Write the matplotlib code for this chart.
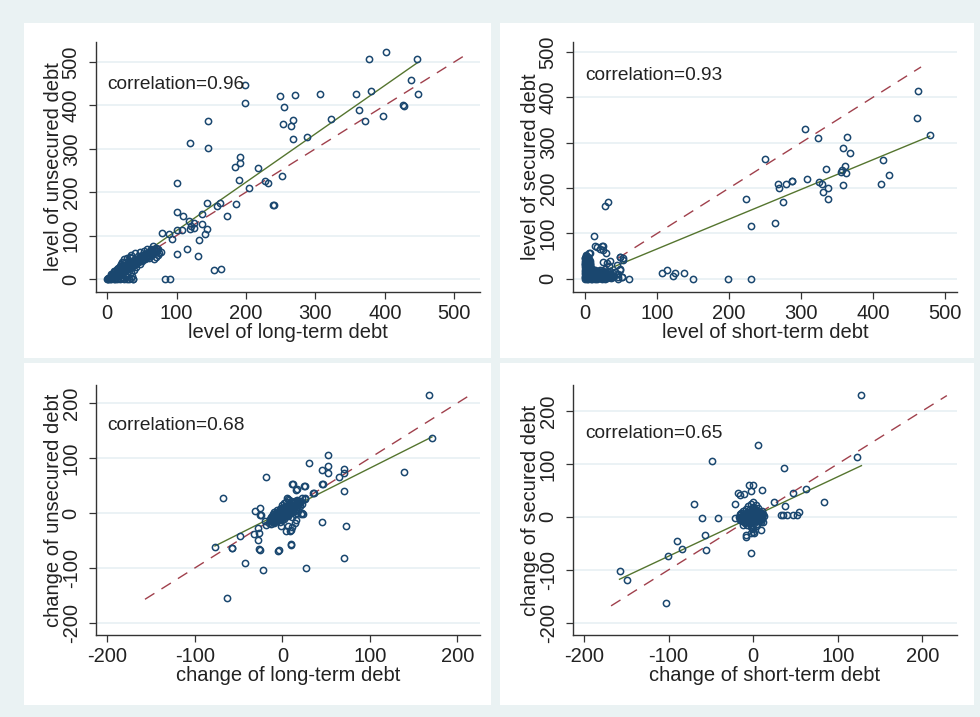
import numpy as np
import matplotlib
matplotlib.use('Agg')
import matplotlib.pyplot as plt
from matplotlib.patches import Rectangle

plt.rcParams['font.family'] = ['Liberation Sans', 'DejaVu Sans']
plt.rcParams['axes.unicode_minus'] = False

# ---- colours (Stata s2color look) ----
NAVY = '#1a476f'
GREEN = '#55752f'
MAROON = '#a0404c'
BG = '#eaf2f3'
GRID = '#e8f0f4'
AXC = '#333333'

# ---- panel 1: level of long-term debt vs level of unsecured debt ----
p1_x = [377, 402, 446, 199, 198, 249, 271, 306, 359, 380, 438, 448, 255, 363, 426, 427,
        323, 253, 268, 265, 371, 398, 146, 119, 146, 267, 288, 192, 192, 184, 190, 217,
        204, 227, 232, 252, 239, 241, 100, 144, 163, 158, 186, 173, 100, 110, 137, 118,
        125, 121, 137, 144, 141, 125, 120, 108, 100, 79, 89, 93, 133, 115, 131, 100,
        154, 164, 83, 91, 37, 68,
        0, 1, 2, 2, 3, 4, 5, 5, 6, 6, 7, 8, 8, 9, 10, 10, 10, 11, 12, 12, 13, 14, 14,
        15, 15, 16, 16, 17, 18, 18, 19, 19, 20, 20, 21, 22, 22, 23, 24, 24, 25, 25, 26,
        27, 27, 28, 28, 29, 30, 30, 31, 32, 32, 33, 34, 34, 35, 35, 36, 36, 37, 38, 38,
        39, 40, 40, 41, 42, 43, 44, 45, 46, 47, 48, 48, 50, 50, 52, 53, 55, 55, 57, 58,
        60, 62, 63, 65, 66, 68, 70, 72, 74, 75, 73, 70, 77, 65, 60, 12, 18, 22, 28, 35,
        3, 5, 7, 9, 11, 13, 15, 17, 19, 21, 23, 25, 27, 29, 31, 33, 35, 37, 39, 41, 43,
        45, 47, 49, 51, 53, 55, 57, 59, 61, 63, 65, 67, 69,
        4, 8, 12, 16, 20, 24, 28, 32, 36, 40, 44, 48, 52, 56, 60, 64, 68, 72,
        6, 10, 14, 18, 22, 26, 30, 34]
p1_y = [507, 522, 507, 446, 406, 421, 424, 427, 427, 433, 458, 427, 397, 390, 402, 399,
        369, 357, 366, 353, 363, 375, 363, 314, 302, 323, 326, 280, 268, 259, 228, 256,
        210, 225, 222, 237, 170, 170, 222, 176, 176, 167, 173, 145, 155, 145, 149, 133,
        130, 121, 127, 115, 103, 118, 115, 112, 112, 106, 103, 93, 90, 69, 54, 57,
        20, 23, 0, 0, 0, 46,
        0, 1, 0, 3, 2, 5, 3, 8, 1, 6, 10, 4, 12, 7, 0, 10, 15, 3, 12, 18, 8, 0, 14,
        20, 25, 6, 16, 11, 22, 30, 2, 18, 20, 35, 9, 25, 40, 14, 0, 24, 30, 45, 18,
        5, 27, 35, 48, 12, 30, 22, 40, 0, 32, 50, 15, 26, 36, 55, 8, 42, 30, 0, 38,
        20, 45, 60, 35, 28, 43, 52, 38, 46, 62, 35, 50, 42, 55, 52, 65, 45, 58, 70, 55,
        60, 52, 68, 62, 75, 66, 72, 65, 70, 60, 55, 50, 62, 55, 48, 0, 0, 3, 0, 2,
        3, 4, 9, 8, 13, 10, 17, 14, 21, 15, 26, 20, 30, 22, 34, 28, 38, 33, 42, 36, 46,
        40, 50, 45, 54, 47, 58, 50, 62, 55, 66, 60, 70, 64,
        0, 2, 6, 10, 14, 18, 22, 26, 30, 34, 38, 42, 46, 50, 54, 58, 62, 68,
        12, 18, 22, 28, 32, 38, 42, 48]

# ---- panel 2: level of short-term debt vs level of secured debt ----
p2_x = [463, 461, 479, 305, 324, 364, 359, 368, 414, 250, 335, 361, 357, 362, 355, 309,
        287, 288, 268, 279, 270, 325, 329, 337, 331, 359, 412, 422, 224, 275, 337, 231,
        264, 27, 32, 12, 14, 25, 20, 29, 5, 48, 53, 49, 46, 51, 61, 107, 114, 122, 125,
        137, 150, 198, 231, 16, 24, 25, 7, 49, 25, 35, 30,
        0, 0, 0, 0, 0, 0, 0, 0, 0, 0, 1, 1, 1, 1, 1, 1, 2, 2, 2, 2, 2, 3, 3, 3, 3, 3,
        4, 4, 4, 4, 4, 5, 5, 5, 5, 6, 6, 6, 6, 7, 7, 7, 8, 8, 8, 9, 9, 9, 10, 10, 10,
        11, 11, 12, 12, 13, 13, 14, 15, 15, 16, 17, 18, 18, 19, 20, 20, 21, 22, 23, 24,
        25, 26, 27, 28, 28, 30, 31, 32, 33, 34, 35, 36, 38, 40, 42, 44, 45, 49, 51, 46, 21, 53,
        0, 1, 2, 3, 4, 5, 6, 7, 0, 1, 2, 3, 4, 5, 6, 7, 0, 1, 2, 3, 4, 5, 6, 7,
        10, 14, 18, 22, 26, 30, 34, 38, 12, 16, 20, 24, 28, 32, 36, 9, 13, 17, 21, 25, 29, 33]
p2_y = [413, 354, 316, 330, 310, 313, 289, 278, 263, 265, 242, 248, 239, 233, 236, 219,
        216, 216, 210, 210, 201, 213, 210, 201, 192, 207, 210, 228, 175, 169, 175, 116,
        122, 160, 169, 95, 72, 72, 66, 57, 57, 48, 45, 22, 0, 4, 0, 13, 19, 7, 13,
        13, 0, 0, 0, 70, 73, 64, 57, 49, 37, 40, 35,
        0, 5, 10, 15, 20, 25, 30, 35, 40, 45, 2, 12, 22, 32, 42, 50, 0, 8, 18, 28, 38, 4, 14, 24, 34, 45,
        0, 10, 20, 30, 40, 6, 16, 26, 36, 2, 12, 22, 32, 8, 18, 28, 0, 14, 24, 4, 10, 20, 0, 8, 16,
        3, 12, 6, 20, 0, 10, 15, 4, 8, 12, 0, 6, 18, 10, 2, 14, 20, 8, 0, 12,
        4, 16, 8, 0, 22, 10, 4, 14, 28, 8, 18, 2, 12, 6, 15, 30, 10, 20, 4, 4, 2, 42,
        3, 7, 11, 15, 19, 23, 27, 31, 33, 37, 41, 45, 48, 44, 39, 35, 47, 52, 49, 43, 26, 29, 21, 17,
        4, 2, 6, 3, 5, 2, 4, 3, 14, 10, 16, 8, 12, 6, 10, 18, 20, 14, 12, 18, 16, 6]

# ---- panel 3: change of long-term debt vs change of unsecured debt ----
p3_x = [168, 171, 139, 52, 30, 52, 45, 52, 71, 71, 65, 70, 45, 26, 12, 16, 35, 36, 23, 26,
        -19, -68, -31, -25, -25, -19, -32, -28, -48, -28, -26, -5, 10, 4, 10, 16, 21, 24,
        45, 73, 71, 27, -22, -43, -58, -77, -63, 11, 17, 25, 46, 18, 26, -24, 23, 17, -20,
        -27, 9, 11, 6, -2, 15, -57, -27, -4, 10,
        -15, -14, -13, -12, -12, -11, -10, -10, -9, -9, -8, -8, -7, -7, -6, -6, -5, -5,
        -4, -4, -3, -3, -3, -2, -2, -1, -1, -1, 0, 0, 0, 0, 1, 1, 1, 2, 2, 2, 3, 3, 3,
        4, 4, 4, 5, 5, 5, 6, 6, 6, 7, 7, 8, 8, 9, 9, 10, 10, 11, 11, 12, 12, 13, 14, 14,
        15, 16, 17, 18, 19, 20, 21, 22, 5, 8, -3, 0, 2,
        -14, -12, -10, -8, -6, -4, -2, 0, 2, 4, 6, 8, 10, 12, 14, 16, 18, 20,
        -13, -11, -9, -7, -5, -3, -1, 1, 3, 5, 7, 9, 11, 13, 15, 17,
        -10, -6, -2, 2, 6, 10, 14]
p3_y = [215, 137, 74, 105, 91, 86, 79, 72, 81, 72, 66, 40, 52, 50, 52, 42, 37, 37, 28, 28,
        66, 28, 4, 9, -4, -21, -38, -28, -42, -50, -67, -69, -57, -33, -30, -13, -1, -1,
        -16, -23, -81, -100, -103, -91, -64, -62, -154, 53, 44, 50, 53, 22, 26, -3, 0, 0, -14,
        -36, -32, -26, -23, -23, -18, -63, -66, -68, -58,
        -18, -10, -20, -5, -14, -2, -12, -18, -6, 2, -10, -15, 0, -4, -8, 5, -2, -12,
        3, -6, 0, 8, -10, -4, 5, 0, 10, -8, 0, 3, -3, 15, 5, -5, 1, 8, -2, 18, 3, 12, -6,
        0, 7, 20, 10, -3, 4, 14, 2, 25, 8, -5, 18, 4, 12, 0, 22, 8, 15, -8, 10, 3, 18, 12, -2,
        20, 8, 15, 5, 18, 12, 22, 16, 27, 24, -16, -12, -10,
        -15, -12, -9, -7, -5, -2, -1, 2, 4, 5, 8, 9, 11, 13, 15, 16, 17, 19,
        -8, -6, -3, -1, 1, 3, 5, 7, 9, 11, 14, 16, 18, 20, 22, 24,
        -16, -13, -10, -7, -3, 0, 4]

# ---- panel 4: change of short-term debt vs change of secured debt ----
p4_x = [128, 123, 6, -49, 36, -5, 0, -2, 11, -18, -16, -11, -21, -70, 25, 47, 63, 84, 38,
        54, 33, 35, 40, 47, 52, -60, -41, -21, -57, -56, -90, -84, -101, -8, -8, 1, -3,
        -158, -149, -103, 9, -1, 0, -2, 9, -12, 7,
        -17, -16, -15, -14, -14, -13, -12, -12, -11, -10, -10, -9, -9, -8, -8, -7, -7,
        -6, -6, -5, -5, -4, -4, -3, -3, -3, -2, -2, -1, -1, -1, 0, 0, 0, 0, 0, 1, 1, 1,
        2, 2, 2, 3, 3, 3, 4, 4, 5, 5, 6, 6, 7, 7, 8, 8, 9, 10, 10, 11, 12, 13, 12, -2, 0, 5,
        -16, -14, -12, -10, -8, -6, -4, -2, 0, 2, 4, 6, 8, 10,
        -15, -13, -11, -9, -7, -5, -3, -1, 1, 3, 5, 7, 9, 11,
        -12, -8, -4, 0, 4, 8]
p4_y = [231, 113, 136, 106, 93, 61, 61, 48, 51, 46, 41, 43, 25, 25, 28, 46, 53, 28, 21,
        10, 3, 3, 3, 3, 3, -3, -3, -3, -35, -63, -45, -60, -73, -35, -38, -30, -68,
        -103, -120, -163, -10, -21, -28, -30, -24, -15, -6,
        0, -5, 5, -2, 8, -8, 2, 12, -4, 6, -12, 0, 15, -6, 4, 10, -15,
        -2, 20, 5, -10, 0, 14, -5, 8, 24, 2, -15, 0, 12, -8, 0, 5, -4, 18, 28, 2, -12, 8,
        0, 14, -6, 4, 22, -18, -2, 10, 6, -8, 0, 16, 3, -5, 10, -2, 5, 0, 12, -4, 6, 2, -10, -20, -22, -14,
        -3, -6, -1, -4, 2, -2, 3, -1, 2, 1, 4, 2, 6, 3,
        3, 1, 5, 4, 8, 6, 10, 7, 9, 11, 13, 5, 8, -1,
        -8, -10, -12, -9, -13, -7]

# fitted lines (intercept, slope) and 45-degree line range
fits = [(0.0, 1.115), (0.5, 0.655), (1.6, 0.80), (0.75, 0.75)]
diag = [(0, 518), (0, 467), (-157, 212), (-168, 229)]
corr = ['correlation=0.96', 'correlation=0.93', 'correlation=0.68', 'correlation=0.65']
xlabels = ['level of long-term debt', 'level of short-term debt',
           'change of long-term debt', 'change of short-term debt']
ylabels = ['level of unsecured debt', 'level of secured debt',
           'change of unsecured debt', 'change of secured debt']
level_ticks = [0, 100, 200, 300, 400, 500]
change_ticks = [-200, -100, 0, 100, 200]
xlims = [(-16, 537), (-17, 517), (-213, 226), (-213, 241)]
ylims = [(-30, 546), (-29, 522), (-222, 233), (-223, 249)]
corr_pos = [(0, 447), (0, 449), (-200, 160), (-198, 158)]

data = [(p1_x, p1_y), (p2_x, p2_y), (p3_x, p3_y), (p4_x, p4_y)]

W, H = 980, 717
fig = plt.figure(figsize=(W / 100, H / 100), dpi=100)
fig.patch.set_facecolor(BG)

# white graph regions
for (x0, y0, x1, y1) in [(24, 23, 491, 358), (500, 23, 974, 358),
                         (24, 363, 491, 705), (500, 363, 974, 705)]:
    fig.patches.append(Rectangle((x0 / W, 1 - y1 / H), (x1 - x0) / W, (y1 - y0) / H,
                                 transform=fig.transFigure, facecolor='white',
                                 edgecolor='none', zorder=-10))

boxes = [(96, 480, 42, 292), (573, 957, 42, 292), (96, 480, 385, 635), (573, 957, 385, 635)]

for i, (l, r, t, b) in enumerate(boxes):
    ax = fig.add_axes([l / W, 1 - b / H, (r - l) / W, (b - t) / H])
    ax.set_facecolor('white')
    x, y = data[i]
    ticks = level_ticks if i < 2 else change_ticks
    ax.set_xticks(ticks)
    ax.set_yticks(ticks)
    ax.set_xlim(*xlims[i])
    ax.set_ylim(*ylims[i])
    for tv in ticks:
        ax.axhline(tv, color=GRID, lw=1.2, zorder=0)

    lo, hi = diag[i]
    ax.plot([lo, hi], [lo, hi], color=MAROON, lw=1.0, linestyle=(0, (8, 6)), zorder=2)
    a, s = fits[i]
    fx = np.array([min(x), max(x)])
    ax.plot(fx, a + s * fx, color=GREEN, lw=1.0, zorder=3)
    ax.plot(x, y, linestyle='none', marker='o', ms=4.5, mfc='none', mec=NAVY, mew=1.1, zorder=4)

    ax.text(corr_pos[i][0], corr_pos[i][1], corr[i], fontsize=13.8, color='#222222',
            ha='left', va='center', zorder=5)

    for sp in ['top', 'right']:
        ax.spines[sp].set_visible(False)
    for sp in ['left', 'bottom']:
        ax.spines[sp].set_color(AXC)
        ax.spines[sp].set_linewidth(1.0)
    ax.tick_params(direction='out', length=5, width=0.9, color=AXC, labelsize=14.5,
                   labelcolor='#222222')
    ax.tick_params(axis='x', pad=3.5)
    ax.tick_params(axis='y', pad=6)
    plt.setp(ax.get_yticklabels(), rotation=90, va='center')
    ax.set_xlabel(xlabels[i], fontsize=14.5, color='#222222', labelpad=0)
    ax.set_ylabel(ylabels[i], fontsize=14.5, color='#222222', labelpad=-1)

fig.savefig('out.png', dpi=100, facecolor=BG)
